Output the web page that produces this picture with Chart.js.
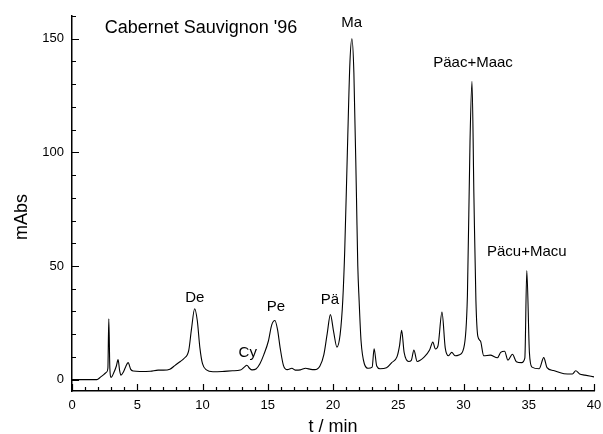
<!DOCTYPE html>
<html>
<head>
<meta charset="utf-8">
<script src="https://cdn.jsdelivr.net/npm/chart.js@4.4.1/dist/chart.umd.min.js"></script>
<style>
  html, body { margin: 0; padding: 0; background: #fff; }
  #wrap { width: 603px; height: 434px; }
</style>
</head>
<body>
<div id="wrap"><canvas id="chrom" width="603" height="434"></canvas></div>
<script>
// retention time (min) and absorbance (mAbs)
const times = [
  0, 1.9, 2.2, 2.45, 2.65, 2.75, 2.82, 2.9, 3.0, 3.2, 3.4, 3.53, 3.65, 3.75, 3.95, 4.1, 4.3, 4.5, 4.7,
  5.2, 6.0, 6.6, 7.0, 7.5, 7.9, 8.3, 8.6, 8.95, 9.15, 9.4, 9.6, 9.8, 10.0, 10.3, 10.8, 11.5, 12.3,
  12.9, 13.2, 13.4, 13.6, 13.8, 14.1, 14.4, 14.7, 15.05, 15.3, 15.55, 15.75, 15.95, 16.2, 16.5, 16.85,
  17.1, 17.5, 17.9, 18.3, 18.6, 19.0, 19.3, 19.55, 19.8, 20.05, 20.3, 20.55, 20.75, 20.9, 21.1, 21.3,
  21.45, 21.6, 21.8, 21.9, 22.0, 22.15, 22.4, 22.7, 23.0, 23.15, 23.35, 23.6, 24.1, 24.5, 24.9, 25.1,
  25.26, 25.45, 25.8, 26.0, 26.2, 26.45, 27.0, 27.4, 27.65, 27.85, 28.05, 28.35, 28.6, 28.85, 29.1,
  29.35, 29.7, 30.0, 30.3, 30.5, 30.65, 30.8, 30.95, 31.1, 31.3, 31.55, 32.05, 32.6, 32.85, 33.15,
  33.4, 33.75, 34.05, 34.45, 34.7, 34.85, 35.05, 35.25, 35.8, 36.15, 36.4, 36.9, 37.7, 38.35, 38.6,
  38.9, 39.3, 40
];
const mAbs = [
  0, 0, 1.2, 2.3, 3.3, 5, 26.8, 5, 1, 3, 6, 8.8, 4, 2, 3.5, 5.5, 7.5, 4.5, 3.8,
  3.6, 3.7, 4.2, 4.2, 4.6, 6.3, 8, 9.4, 13, 22, 31.2, 26, 14, 7, 4.3, 3.5, 3.6, 3.9,
  4.2, 5.5, 6.3, 5, 4.3, 4.7, 7, 11, 17, 24, 26, 22, 14, 6.3, 4.4, 5,
  4.2, 4.3, 5, 4.5, 4.4, 6, 11, 20, 28.6, 21, 14.3, 20, 35, 57, 100, 140,
  150, 135, 80, 50, 35, 17, 7, 5, 5.5, 13.6, 6, 4.8, 5.2, 7.5, 10, 15,
  21.7, 12, 8, 8.5, 13, 8, 10, 13, 16.5, 13.5, 15, 29.7, 14, 10.5, 12,
  10.5, 11, 13.5, 37, 105, 131.3, 80, 35, 19, 17, 10.5, 10.8, 9.6, 12, 12.5,
  8.6, 11.2, 7.9, 7.5, 9.5, 48, 12, 5.5, 4.8, 9.7, 5.3, 4, 2.6, 2.5, 3.9,
  2.5, 2, 1.2
];

// peak names and where their labels sit (data units)
const peakNames = ["De", "Cy", "Pe", "Pä", "Ma", "Päac+Maac", "Päcu+Macu"];
const labelT = [9.41, 13.47, 15.62, 19.76, 21.43, 30.73, 34.85];
const labelV = [35.8, 11.6, 32.0, 35.2, 156.8, 139.2, 56.2];

const yTicks = [0, 10, 20, 30, 40, 50, 60, 70, 80, 90, 100, 110, 120, 130, 140, 150, 160];
const xTicks = Array.from({ length: 41 }, (_, i) => i);

const FONT = "Arial, 'Liberation Sans', Helvetica, sans-serif";

const points = times.map((t, i) => ({ x: t, y: mAbs[i] }));

// tick marks (inside), peak labels, title and axis titles
const decor = {
  id: "decor",
  afterDraw(chart) {
    const ctx = chart.ctx;
    const xs = chart.scales.x, ys = chart.scales.y;
    const area = chart.chartArea;
    ctx.save();
    ctx.strokeStyle = "#000";
    ctx.lineWidth = 1.2;
    ctx.beginPath();
    xTicks.forEach(v => {
      const px = Math.round(xs.getPixelForValue(v)) + 0.5;
      const len = v % 5 === 0 ? 7 : 4;
      ctx.moveTo(px, area.bottom);
      ctx.lineTo(px, area.bottom - len);
    });
    yTicks.forEach(v => {
      const py = Math.round(ys.getPixelForValue(v)) + 0.5;
      const len = v % 50 === 0 ? 7 : 4;
      ctx.moveTo(area.left, py);
      ctx.lineTo(area.left + len, py);
    });
    ctx.stroke();

    ctx.fillStyle = "#000";
    ctx.textAlign = "center";
    ctx.textBaseline = "middle";
    ctx.font = "15px " + FONT;
    peakNames.forEach((name, i) => {
      ctx.fillText(name, xs.getPixelForValue(labelT[i]), ys.getPixelForValue(labelV[i]));
    });

    ctx.font = "18px " + FONT;
    ctx.textAlign = "left";
    ctx.fillText("Cabernet Sauvignon '96", xs.getPixelForValue(2.51), ys.getPixelForValue(154.5));

    ctx.textAlign = "center";
    ctx.fillText("t / min", (area.left + area.right) / 2, 427);
    ctx.translate(22, 217);
    ctx.rotate(-Math.PI / 2);
    ctx.fillText("mAbs", 0, 0);
    ctx.restore();
  }
};

new Chart(document.getElementById("chrom"), {
  type: "line",
  data: {
    datasets: [{
      data: points,
      borderColor: "#000",
      borderWidth: 1.1,
      pointRadius: 0,
      fill: false,
      cubicInterpolationMode: "monotone"
    }]
  },
  options: {
    responsive: false,
    animation: false,
    devicePixelRatio: 1,
    layout: { padding: { top: 16, right: 9, left: 0, bottom: 0 } },
    plugins: { legend: { display: false }, tooltip: { enabled: false } },
    scales: {
      x: {
        type: "linear",
        min: 0,
        max: 40,
        afterBuildTicks: s => { s.ticks = xTicks.map(v => ({ value: v })); },
        afterFit: s => { s.height = 43; s.paddingLeft = 0; s.paddingRight = 0; },
        grid: { display: false, drawTicks: false },
        border: { display: true, color: "#000", width: 1.5 },
        ticks: {
          autoSkip: false,
          maxRotation: 0,
          padding: 7,
          color: "#000",
          font: { family: FONT, size: 13 },
          callback: v => (v % 5 === 0 ? String(v) : "")
        }
      },
      y: {
        type: "linear",
        min: -5,
        max: 160,
        afterBuildTicks: s => { s.ticks = yTicks.map(v => ({ value: v })); },
        afterFit: s => { s.width = 72; s.paddingTop = 0; s.paddingBottom = 0; },
        grid: { display: false, drawTicks: false },
        border: { display: true, color: "#000", width: 1.5 },
        ticks: {
          autoSkip: false,
          padding: 8,
          color: "#000",
          font: { family: FONT, size: 13 },
          callback: v => (v % 50 === 0 ? String(v) : "")
        }
      }
    }
  },
  plugins: [decor]
});
</script>
</body>
</html>
